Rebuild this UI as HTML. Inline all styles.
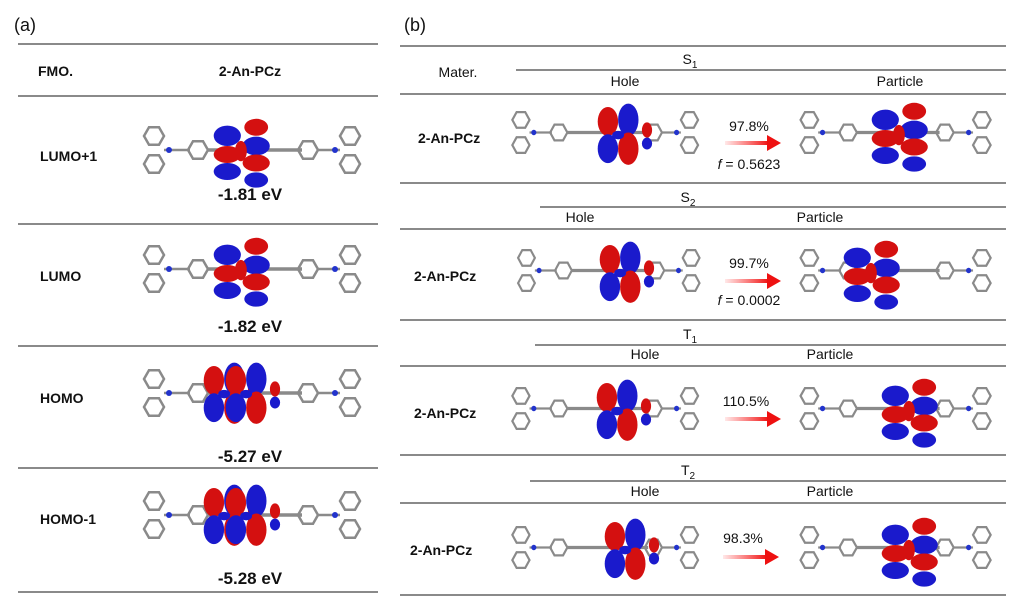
<!DOCTYPE html>
<html><head><meta charset="utf-8"><style>
html,body{margin:0;padding:0;background:#fff;}
svg{display:block;font-family:"Liberation Sans",Arial,sans-serif;}
</style></head><body>
<svg width="1024" height="603" viewBox="0 0 1024 603" xmlns="http://www.w3.org/2000/svg">
<defs>
<polygon id="hx" points="10,0 5,8.7 -5,8.7 -10,0 -5,-8.7 5,-8.7" fill="none" stroke="#8a8a8a" stroke-width="2.5"/>
<g id="sk">
  <use href="#hx" x="22" y="31"/><use href="#hx" x="22" y="59"/>
  <line x1="32" y1="45" x2="58" y2="45" stroke="#8a8a8a" stroke-width="2.5"/>
  <circle cx="37" cy="45" r="3" fill="#2233cc"/>
  <use href="#hx" x="66" y="45"/>
  <line x1="76" y1="45" x2="170" y2="45" stroke="#8a8a8a" stroke-width="3.5"/>
  <use href="#hx" x="176" y="45"/>
  <line x1="186" y1="45" x2="208" y2="45" stroke="#8a8a8a" stroke-width="2.5"/>
  <circle cx="203" cy="45" r="3" fill="#2233cc"/>
  <use href="#hx" x="218" y="31"/><use href="#hx" x="218" y="59"/>
</g>
<g id="orbA">
  <ellipse cx="14" cy="30" rx="12" ry="17" fill="#d41010"/>
  <ellipse cx="14" cy="62" rx="12" ry="17" fill="#1a1acc"/>
  <ellipse cx="38" cy="28" rx="12" ry="19" fill="#1a1acc"/>
  <ellipse cx="38" cy="62" rx="12" ry="19" fill="#d41010"/>
  <ellipse cx="26" cy="46" rx="7" ry="5" fill="#1a1acc"/>
  <ellipse cx="60" cy="40" rx="6" ry="9" fill="#d41010"/>
  <ellipse cx="60" cy="56" rx="6" ry="7" fill="#1a1acc"/>
</g>
<g id="orbF">
  <ellipse cx="18" cy="28" rx="16" ry="12" fill="#1a1acc"/>
  <ellipse cx="18" cy="50" rx="16" ry="10" fill="#d41010"/>
  <ellipse cx="18" cy="70" rx="16" ry="10" fill="#1a1acc"/>
  <ellipse cx="52" cy="18" rx="14" ry="10" fill="#d41010"/>
  <ellipse cx="52" cy="40" rx="16" ry="11" fill="#1a1acc"/>
  <ellipse cx="52" cy="60" rx="16" ry="10" fill="#d41010"/>
  <ellipse cx="52" cy="80" rx="14" ry="9" fill="#1a1acc"/>
  <ellipse cx="34" cy="46" rx="7" ry="12" fill="#d41010"/>
</g>
<linearGradient id="ar" x1="0" x2="1"><stop offset="0" stop-color="#ff2020" stop-opacity="0.1"/><stop offset="1" stop-color="#ee1111"/></linearGradient>
<g id="arrow"><rect x="0" y="-2" width="44" height="4" fill="url(#ar)"/><polygon points="42,-8 56,0 42,8" fill="#ee1111"/></g>
</defs>

<g stroke="#444" stroke-width="1.2">
<line x1="18" y1="44" x2="378" y2="44"/><line x1="18" y1="96" x2="378" y2="96"/>
<line x1="18" y1="224" x2="378" y2="224"/><line x1="18" y1="346" x2="378" y2="346"/>
<line x1="18" y1="468" x2="378" y2="468"/><line x1="18" y1="592" x2="378" y2="592"/>
<line x1="400" y1="46" x2="1006" y2="46"/><line x1="516" y1="70" x2="1006" y2="70"/>
<line x1="400" y1="94" x2="1006" y2="94"/><line x1="400" y1="183" x2="1006" y2="183"/>
<line x1="540" y1="207" x2="1006" y2="207"/><line x1="400" y1="229" x2="1006" y2="229"/>
<line x1="400" y1="320" x2="1006" y2="320"/><line x1="535" y1="345" x2="1006" y2="345"/>
<line x1="400" y1="366" x2="1006" y2="366"/><line x1="400" y1="455" x2="1006" y2="455"/>
<line x1="530" y1="481" x2="1006" y2="481"/><line x1="400" y1="503" x2="1006" y2="503"/>
<line x1="400" y1="595" x2="1006" y2="595"/>
</g>

<g font-size="18" fill="#111"><text x="14" y="31">(a)</text><text x="404" y="31">(b)</text></g>

<g font-size="14" font-weight="bold" fill="#111">
<text x="38" y="76">FMO.</text><text x="250" y="76" text-anchor="middle">2-An-PCz</text>
<text x="40" y="161">LUMO+1</text><text x="40" y="281">LUMO</text>
<text x="40" y="403">HOMO</text><text x="40" y="524">HOMO-1</text>
</g>
<g font-size="17" font-weight="bold" fill="#111" text-anchor="middle">
<text x="250" y="200">-1.81 eV</text><text x="250" y="332">-1.82 eV</text>
<text x="250" y="462">-5.27 eV</text><text x="250" y="584">-5.28 eV</text>
</g>

<!-- left panel molecules -->
<g transform="translate(132,105)"><use href="#sk"/><g transform="translate(80,7) scale(0.85)"><use href="#orbF"/></g></g>
<g transform="translate(132,224)"><use href="#sk"/><g transform="translate(80,7) scale(0.85)"><use href="#orbF"/></g></g>
<g transform="translate(132,348)"><use href="#sk"/><g transform="translate(70,7) scale(0.85)"><use href="#orbA"/></g><g transform="translate(92,7) scale(0.85)"><use href="#orbA"/></g></g>
<g transform="translate(132,470)"><use href="#sk"/><g transform="translate(70,7) scale(0.85)"><use href="#orbA"/></g><g transform="translate(92,7) scale(0.85)"><use href="#orbA"/></g></g>

<g font-size="14" fill="#111" text-anchor="middle">
<text x="458" y="77">Mater.</text>
<text x="690" y="64">S<tspan font-size="10" dy="4">1</tspan></text>
<text x="625" y="86">Hole</text><text x="900" y="86">Particle</text>
<text x="688" y="202">S<tspan font-size="10" dy="4">2</tspan></text>
<text x="580" y="222">Hole</text><text x="820" y="222">Particle</text>
<text x="690" y="339">T<tspan font-size="10" dy="4">1</tspan></text>
<text x="645" y="359">Hole</text><text x="830" y="359">Particle</text>
<text x="688" y="475">T<tspan font-size="10" dy="4">2</tspan></text>
<text x="645" y="496">Hole</text><text x="830" y="496">Particle</text>
<text x="749" y="131">97.8%</text><text x="749" y="169"><tspan font-style="italic">f</tspan> = 0.5623</text>
<text x="749" y="268">99.7%</text><text x="749" y="305"><tspan font-style="italic">f</tspan> = 0.0002</text>
<text x="746" y="406">110.5%</text>
<text x="743" y="543">98.3%</text>
</g>
<g font-size="14" font-weight="bold" fill="#111">
<text x="418" y="143">2-An-PCz</text><text x="414" y="281">2-An-PCz</text>
<text x="414" y="418">2-An-PCz</text><text x="410" y="555">2-An-PCz</text>
</g>

<use href="#arrow" x="725" y="143"/><use href="#arrow" x="725" y="281"/>
<use href="#arrow" x="725" y="419"/><use href="#arrow" x="723" y="557"/>

<!-- right panel molecules -->
<g transform="translate(502,92) scale(0.86,0.9)"><use href="#sk"/></g>
<g transform="translate(596,96) scale(0.85)"><use href="#orbA"/></g>
<g transform="translate(790,92) scale(0.88,0.9)"><use href="#sk"/></g>
<g transform="translate(870,96) scale(0.85)"><use href="#orbF"/></g>

<g transform="translate(508,230) scale(0.84,0.9)"><use href="#sk"/></g>
<g transform="translate(598,234) scale(0.85)"><use href="#orbA"/></g>
<g transform="translate(790,230) scale(0.88,0.9)"><use href="#sk"/></g>
<g transform="translate(842,234) scale(0.85)"><use href="#orbF"/></g>

<g transform="translate(502,368) scale(0.86,0.9)"><use href="#sk"/></g>
<g transform="translate(595,372) scale(0.85)"><use href="#orbA"/></g>
<g transform="translate(790,368) scale(0.88,0.9)"><use href="#sk"/></g>
<g transform="translate(880,372) scale(0.85)"><use href="#orbF"/></g>

<g transform="translate(502,507) scale(0.86,0.9)"><use href="#sk"/></g>
<g transform="translate(603,511) scale(0.85)"><use href="#orbA"/></g>
<g transform="translate(790,507) scale(0.88,0.9)"><use href="#sk"/></g>
<g transform="translate(880,511) scale(0.85)"><use href="#orbF"/></g>
</svg>
</body></html>
